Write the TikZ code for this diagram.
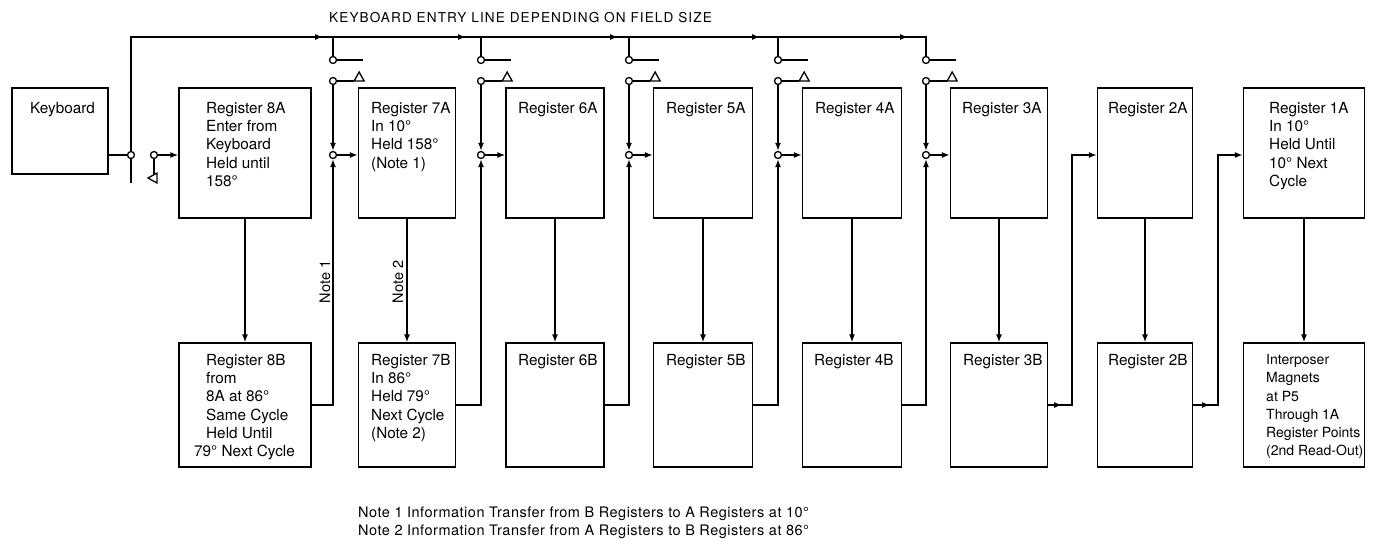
\documentclass[tikz,border=0pt]{standalone}
\usepackage{fontspec}
\setmainfont{TeX Gyre Heros}
\usetikzlibrary{arrows.meta,decorations.markings}
\begin{document}
\begin{tikzpicture}[x=1pt,y=-1pt,
  box/.style={draw,line width=1.2pt,inner sep=0pt},
  txt/.style={anchor=north west,inner sep=0pt,align=left,font=\fontsize{15.3}{18.3}\selectfont},
  wire/.style={line width=1.8pt},
  arr/.style={wire,-{Latex[length=8pt,width=6pt]}},
  midarr/.style={postaction={decorate,decoration={markings,mark=at position #1 with {\arrow{Latex[length=8pt,width=6pt]}}}}},
  dot/.style={circle,draw,fill=white,line width=1.3pt,minimum size=7pt,inner sep=0pt},
  tri/.style={line width=1.3pt,fill=white,line join=miter},
  notetxt/.style={anchor=base west,inner sep=0pt,font=\fontsize{14.5}{16}\selectfont\addfontfeature{LetterSpace=3.5}}
]
\fill[white] (0,0) rectangle (1373,540);
\useasboundingbox (0,0) rectangle (1373,540);

% title
\node[anchor=base west,inner sep=0pt,font=\fontsize{13.6}{15}\selectfont] (title) at (329,23)
  {\addfontfeature{LetterSpace=8}KEYBOARD ENTRY LINE DEPENDING ON FIELD SIZE};

% keyboard
\node[box,minimum width=96pt,minimum height=86pt] (kb) at (60,131) {};
\node[txt] (tkb) at (30,102) {Keyboard};

% registers
\foreach \n/\cx/\w in {8/245/132, 7/407/97, 6/555/98, 5/703/99, 4/852/99, 3/999/97, 2/1145/95, 1/1304/121} {
  \node[box,minimum width=\w pt,minimum height=130pt] (a\n) at (\cx,153) {};
  \node[box,minimum width=\w pt,minimum height=124pt] (b\n) at (\cx,405) {};
  \draw[arr] (a\n.south) -- (b\n.north);
}

% register texts
\node[txt] (t8a) at (206,102) {Register 8A\\Enter from\\Keyboard\\Held until\\158°};
\node[txt] (t7a) at (371,102) {Register 7A\\In 10°\\Held 158°\\(Note 1)};
\node[txt] (t6a) at (518,102) {Register 6A};
\node[txt] (t5a) at (666,102) {Register 5A};
\node[txt] (t4a) at (815,102) {Register 4A};
\node[txt] (t3a) at (962,102) {Register 3A};
\node[txt] (t2a) at (1108,102) {Register 2A};
\node[txt] (t1a) at (1269,102) {Register 1A\\In 10°\\Held Until\\10° Next\\Cycle};

\node[txt] (t8b) at (206,354) {Register 8B\\from\\8A at 86°\\Same Cycle\\Held Until\\\hspace*{-12pt}79° Next Cycle};
\node[txt] (t7b) at (371,354) {Register 7B\\In 86°\\Held 79°\\Next Cycle\\(Note 2)};
\node[txt] (t6b) at (518,354) {Register 6B};
\node[txt] (t5b) at (666,354) {Register 5B};
\node[txt] (t4b) at (814,354) {Register 4B};
\node[txt] (t3b) at (963,354) {Register 3B};
\node[txt] (t2b) at (1108,354) {Register 2B};
\node[txt,font=\fontsize{14}{18.3}\selectfont] (t1b) at (1266,354) {Interposer\\Magnets\\at P5\\Through 1A\\Register Points\\(2nd Read-Out)};

% keyboard entry
\node[dot] (kc) at (131,155) {};
\coordinate (tl) at (131,37);
\coordinate (kbot) at (131,183);
\draw[wire] (kc -| kb.east) -- (kc);
\draw[wire] (kc.south) -- (kbot);
\node[dot] (s8) at (154,155) {};
\draw[arr] (s8) -- (s8 -| a8.west);
\draw[wire] (s8.south) -- (154,174);
\draw[tri] (157,173) -- (157,183) -- (148,178) -- cycle;

% bus switches
\foreach \n/\x/\p in {7/333/8, 6/481/7, 5/629/6, 4/778/5, 3/926/4} {
  \node[dot] (u\n) at (\x,60) {};
  \node[dot] (l\n) at (\x,81) {};
  \node[dot] (c\n) at (\x,155) {};
  \draw[wire] (u\n.east) -- ++(26,0);
  \draw[wire] (l\n.east) -- ++(17,0) coordinate (tp\n);
  \draw[tri] (tp\n) -- ++(10,0) -- ++(-5,-9) -- cycle;
  \draw[arr] (l\n) -- (c\n);
  \draw[arr] (c\n) -- (c\n -| a\n.west);
  \draw[arr] (b\p.east) -| (c\n.south);
}

% top line
\draw[wire,midarr=306pt,midarr=449pt,midarr=601pt,midarr=743pt,midarr=891pt]
  (kc.north) -- (tl) -- (926,37) -- (u3.north);
\foreach \n/\x in {7/333, 6/481, 5/629, 4/778} {
  \draw[wire] (\x,37) -- (u\n.north);
}

% feeds to 2A and 1A
\coordinate (j2) at (1072,405);
\coordinate (j1) at (1218,405);
\draw[arr,midarr=14pt] (b3.east) -- (j2) |- (a2.west |- c3);
\draw[arr,midarr=17pt] (b2.east) -- (j1) |- (a1.west |- c3);

% note labels
\node[rotate=90,inner sep=0pt,font=\fontsize{14.5}{16}\selectfont] (n1) at (325,282) {Note 1};
\node[rotate=90,inner sep=0pt,font=\fontsize{14.5}{16}\selectfont] (n2) at (398,282) {Note 2};

\node[notetxt] (note1) at (358,517)
  {Note 1 Information Transfer from B Registers to A Registers at 10°};
\node[notetxt] (note2) at (358,535)
  {Note 2 Information Transfer from A Registers to B Registers at 86°};
\end{tikzpicture}
\end{document}
